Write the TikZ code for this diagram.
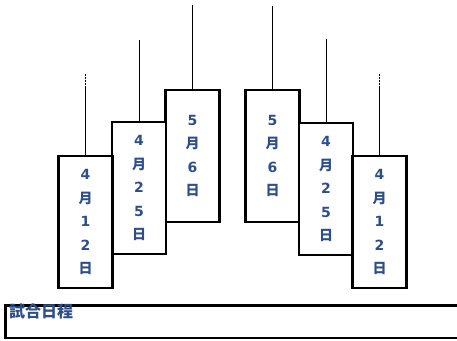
\documentclass[tikz,border=0pt]{standalone}
\usepackage{fontspec}
\newfontfamily\cjk{Noto Sans CJK JP}
\newfontfamily\dv{DejaVu Sans}
\newcommand{\dg}[1]{{\dv\bfseries #1}}
\definecolor{txtblue}{RGB}{44,78,138}
\tikzset{
  datebox/.style={draw=black, line width=2.3pt, fill=white, minimum width=54pt, minimum height=132pt,
    inner sep=0pt, align=center, text=txtblue,
    font=\cjk\bfseries\fontsize{14pt}{23.5pt}\selectfont},
  stem/.style={draw=black, line width=0.9pt},
  dotstem/.style={draw=black, line width=1.6pt, dash pattern=on 1.5pt off 1.5pt},
  titlebox/.style={draw=black, line width=2.4pt},
  titletext/.style={text=txtblue, font=\cjk\bfseries\fontsize{16pt}{18pt}\selectfont, inner sep=0pt, anchor=north west}
}
\begin{document}
\begin{tikzpicture}[x=1pt,y=-1pt]
\useasboundingbox (0,0) rectangle (457,340);
% top coordinates of stems
\coordinate (tA) at (85.5,88);
\coordinate (dA) at (85.5,74);
\coordinate (tB) at (139,40);
\coordinate (tC) at (192.5,5);
\coordinate (tD) at (272.5,6);
\coordinate (tE) at (326,39);
\coordinate (tF) at (379.5,88);
\coordinate (dF) at (379.5,74);
% boxes
\node[datebox] (C) at (192.5,156) {\dg{5}\\月\\\dg{6}\\日};
\node[datebox] (B) at (139,188) {\dg{4}\\月\\\dg{2}\\\dg{5}\\日};
\node[datebox] (A) at (85.5,222) {\dg{4}\\月\\\dg{1}\\\dg{2}\\日};
\node[datebox] (D) at (272.5,156) {\dg{5}\\月\\\dg{6}\\日};
\node[datebox] (E) at (326,189) {\dg{4}\\月\\\dg{2}\\\dg{5}\\日};
\node[datebox] (F) at (379.5,222) {\dg{4}\\月\\\dg{1}\\\dg{2}\\日};
% stems
\draw[stem] (tA) -- (A.north);
\draw[stem] (tB) -- (B.north);
\draw[stem] (tC) -- (C.north);
\draw[stem] (tD) -- (D.north);
\draw[stem] (tE) -- (E.north);
\draw[stem] (tF) -- (F.north);
\draw[dotstem] (dA) -- (tA);
\draw[dotstem] (dF) -- (tF);
% bottom title box
\draw[titlebox] (5.5,305.5) rectangle (470,338);
\node[titletext] (T) at (9,303.5) {試合日程};
\end{tikzpicture}
\end{document}
